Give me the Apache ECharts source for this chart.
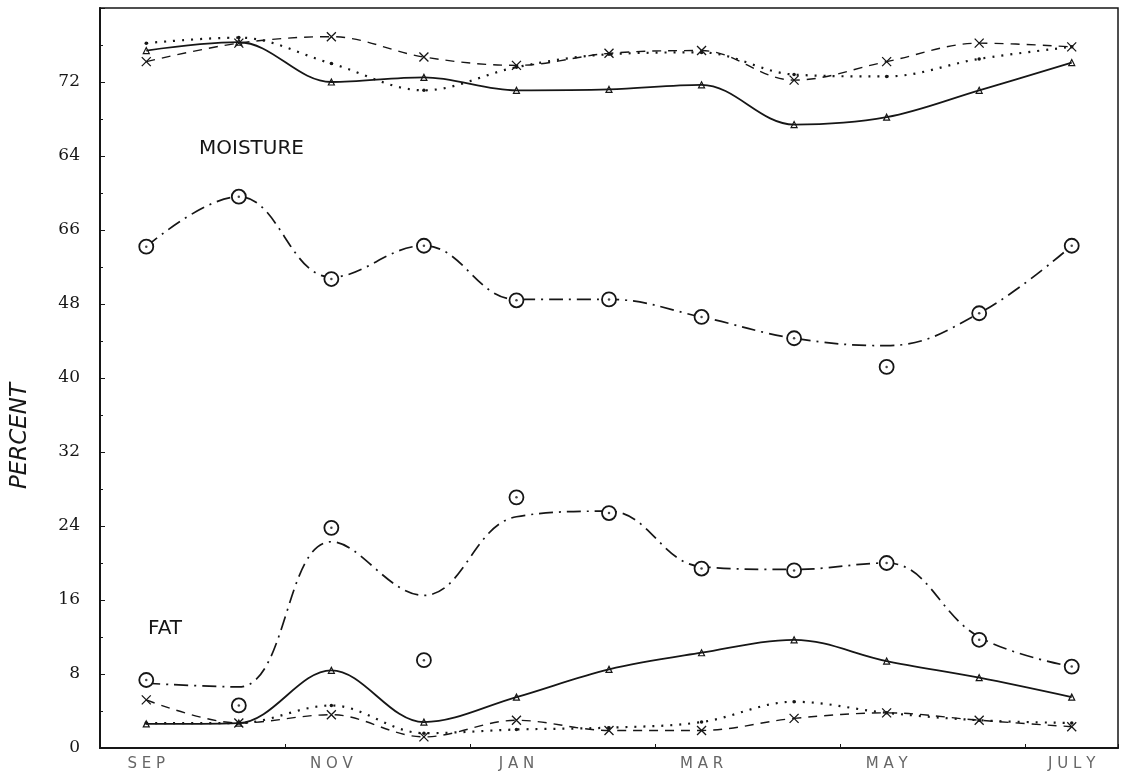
<!DOCTYPE html>
<html>
<head>
<meta charset="utf-8">
<script src="https://cdn.jsdelivr.net/npm/echarts@6/dist/echarts.min.js"></script>
<style>html,body{margin:0;padding:0;background:#fff}#c{width:1128px;height:776px}</style>
</head>
<body>
<div id="c"></div>
<script>
const months = ['SEP','OCT','NOV','DEC','JAN','FEB','MAR','APR','MAY','JUN','JULY'];
const yTickLabels = ['0','8','16','24','32','40','48','66','64','72',''];

const moistureSolid  = [75.4, 76.3, 72.0, 72.5, 71.1, 71.2, 71.7, 67.4, 68.2, 71.1, 74.1];
const moistureDashed = [74.2, 76.2, 76.9, 74.7, 73.8, 75.1, 75.4, 72.2, 74.2, 76.2, 75.8];
const moistureDotted = [76.2, 76.8, 74.0, 71.1, 73.6, 75.0, 75.2, 72.8, 72.6, 74.5, 75.8];
const moistureCircles = [54.2, 59.6, 50.7, 54.3, 48.4, 48.5, 46.6, 44.3, 41.2, 47.0, 54.3];
const moistureCurve   = [54.2, 59.6, 50.9, 54.3, 48.5, 48.5, 46.6, 44.3, 43.5, 47.0, 54.3];

const fatCircles = [7.35, 4.6, 23.8, 9.5, 27.1, 25.4, 19.4, 19.2, 20.0, 11.7, 8.8];
const fatCurve   = [7.0, 6.6, 22.3, 16.5, 25.0, 25.6, 19.6, 19.3, 20.0, 12.0, 8.8];
const fatSolid   = [2.6, 2.7, 8.4, 2.8, 5.5, 8.5, 10.3, 11.7, 9.4, 7.6, 5.5];
const fatDashed  = [5.2, 2.7, 3.6, 1.2, 3.0, 1.9, 1.9, 3.2, 3.8, 3.0, 2.3];
const fatDotted  = [2.7, 2.7, 4.6, 1.6, 2.0, 2.2, 2.8, 5.0, 3.8, 3.0, 2.7];

const INK = '#161616';
const xPath = 'path://M0,0L10,10M10,0L0,10';

function solid(data){
  return {type:'line', data, smooth:0.35, symbol:'triangle', symbolSize:6,
    itemStyle:{color:'transparent', borderColor:INK, borderWidth:1.2},
    lineStyle:{color:INK, width:1.8, type:'solid'}, z:3};
}
function dashed(data){
  return {type:'line', data, smooth:0.35, symbol:xPath, symbolSize:9,
    itemStyle:{color:'transparent', borderColor:INK, borderWidth:1.3},
    lineStyle:{color:INK, width:1.4, type:[9,7]}, z:3};
}
function dotted(data){
  return {type:'line', data, smooth:0.35, symbol:'circle', symbolSize:3.5,
    itemStyle:{color:INK},
    lineStyle:{color:INK, width:2.2, type:[2,7]}, z:3};
}
function curve(data){
  return {type:'line', data, smooth:0.4, showSymbol:false,
    lineStyle:{color:INK, width:1.7, type:[14,6,2,6]}, z:2};
}
function circles(data){
  return [
    {type:'scatter', data, symbol:'circle', symbolSize:14,
      itemStyle:{color:'#ffffff', borderColor:INK, borderWidth:1.8, opacity:1}, z:4},
    {type:'scatter', data, symbol:'circle', symbolSize:2.5,
      itemStyle:{color:INK}, z:5}
  ];
}

const chart = echarts.init(document.getElementById('c'), null, {renderer:'canvas'});
chart.setOption({
  backgroundColor:'#fff',
  animation:false,
  grid:{left:100, right:10, top:8, bottom:28, show:true, borderColor:INK, borderWidth:1.5},
  xAxis:{
    type:'category', data:months, boundaryGap:true,
    axisLine:{lineStyle:{color:INK, width:2}},
    axisTick:{show:true, inside:true, length:4, lineStyle:{color:INK}},
    axisLabel:{interval:1, margin:9, color:'#666', fontSize:15, fontFamily:'DejaVu Sans',
      formatter:(v)=>v.split('').join(' ')},
    splitLine:{show:false}
  },
  yAxis:{
    type:'value', min:0, max:80, interval:8,
    axisLine:{show:true, lineStyle:{color:INK, width:2}},
    axisTick:{show:true, inside:true, length:5, lineStyle:{color:INK}},
    minorTick:{show:true, splitNumber:2, length:3, lineStyle:{color:INK}},
    axisLabel:{margin:20, color:INK, fontSize:17, fontFamily:'DejaVu Serif',
      formatter:(v)=>yTickLabels[Math.round(v/8)] ?? ''},
    splitLine:{show:false}
  },
  graphic:[
    {type:'text', left:199, top:139, style:{text:'MOISTURE', font:'20px "DejaVu Sans"', fill:INK}},
    {type:'text', left:148, top:619, style:{text:'FAT', font:'20px "DejaVu Sans"', fill:INK}},
    {type:'text', x:20, y:436, rotation:Math.PI/2,
      style:{text:'PERCENT', font:'italic 23px "DejaVu Sans"', fill:INK, align:'center', verticalAlign:'middle'}}
  ],
  series:[
    solid(moistureSolid), dashed(moistureDashed), dotted(moistureDotted),
    curve(moistureCurve), ...circles(moistureCircles),
    curve(fatCurve), ...circles(fatCircles),
    solid(fatSolid), dashed(fatDashed), dotted(fatDotted)
  ]
});
</script>
</body>
</html>
